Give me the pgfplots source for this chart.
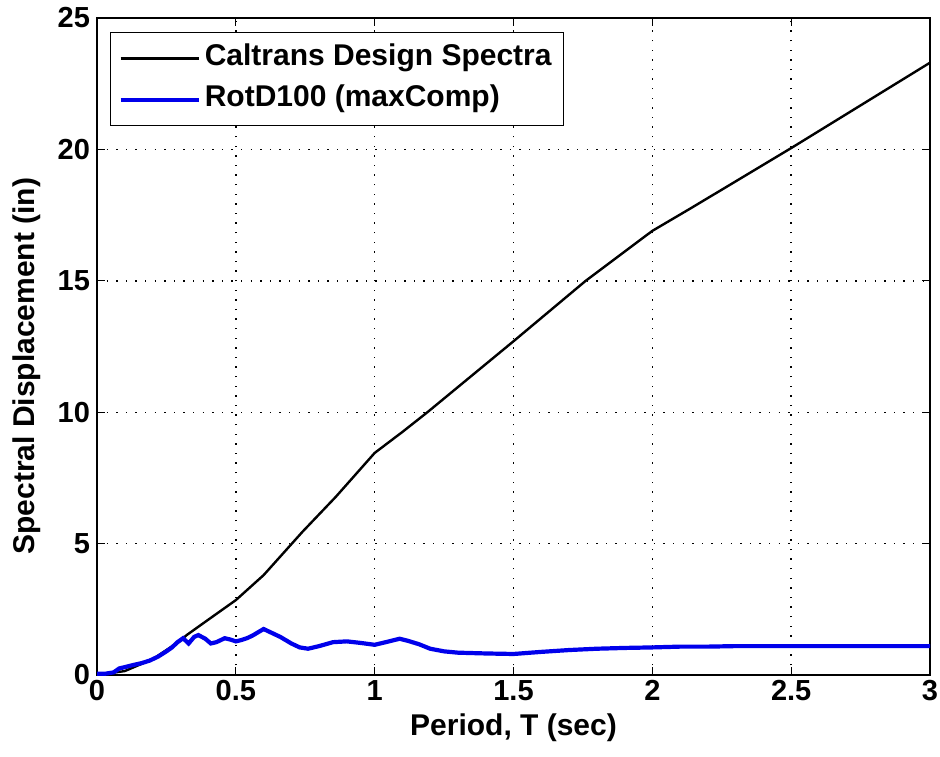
\documentclass[border=0pt]{standalone}
\usepackage{fontspec}
\setmainfont{Liberation Sans}
\usepackage{pgfplots}
\pgfplotsset{compat=1.18}

\begin{document}
\begin{tikzpicture}
\path[use as bounding box] (0pt,0pt) rectangle (470pt,378pt);
\begin{axis}[
  at={(48.5pt,40.5pt)}, anchor=south west,
  scale only axis,
  width=416.5pt, height=328.5pt,
  xmin=0, xmax=3, ymin=0, ymax=25,
  xtick={0,0.5,...,3}, ytick={0,5,...,25},
  xticklabels={0,0.5,1,1.5,2,2.5,3},
  /pgf/number format/assume math mode=true,
  tick align=inside, tick pos=both,
  major tick length=4pt,
  tick style={black, line width=0.6pt},
  axis line style={line width=0.75pt},
  grid=major,
  major grid style={black, line width=0.7pt, dash pattern=on 0.7pt off 4.1pt},
  ticklabel style={font=\bfseries\fontsize{14.5}{16}\selectfont},
  xticklabel style={yshift=1pt},
  label style={font=\bfseries\fontsize{15}{17}\selectfont},
  xlabel={Period, T (sec)},
  ylabel={Spectral Displacement (in)},
  xlabel style={at={(axis description cs:0.5,-0.081)}, anchor=center},
  ylabel style={at={(axis description cs:-0.084,0.47)}, anchor=center},
  legend cell align=left,
  legend style={at={(axis description cs:0,1)}, anchor=north west,
    xshift=6.5pt, yshift=-7pt, draw=black, line width=0.6pt, fill=white,
    font=\bfseries\fontsize{15}{17}\selectfont, row sep=2.5pt,
    nodes={inner sep=2pt, text height=10.5pt, text depth=3.5pt},
    inner xsep=4pt, inner ysep=4pt},
  legend image code/.code={\draw[#1] (0pt,0pt) -- (39pt,0pt);},
]
\addplot [black, line width=1.2pt] table {%
0 0
0.1 0.15
0.2 0.6
0.3 1.3
0.323 1.52
0.4 2.1
0.5 2.85
0.6 3.8
0.74 5.45
0.86 6.78
1.0 8.45
1.1 9.25
1.19 10.0
1.5 12.7
1.76 15.0
2.0 16.9
2.14 17.77
2.5 20.05
3.0 23.3
};
\addlegendentry{Caltrans Design Spectra}
\addplot [color={rgb,255:red,0;green,0;blue,235}, line width=2.1pt] table {%
0 0.05
0.03 0.05
0.06 0.1
0.08 0.25
0.1 0.3
0.13 0.38
0.16 0.45
0.19 0.55
0.22 0.7
0.25 0.9
0.27 1.05
0.29 1.25
0.31 1.4
0.33 1.2
0.35 1.45
0.365 1.52
0.39 1.38
0.41 1.2
0.43 1.25
0.46 1.4
0.48 1.35
0.50 1.28
0.52 1.33
0.54 1.4
0.56 1.5
0.60 1.75
0.63 1.6
0.66 1.45
0.70 1.2
0.73 1.05
0.76 1.0
0.80 1.1
0.85 1.25
0.90 1.28
0.95 1.22
1.0 1.15
1.04 1.25
1.09 1.38
1.12 1.3
1.16 1.17
1.2 1.0
1.25 0.9
1.3 0.85
1.4 0.82
1.5 0.8
1.6 0.88
1.7 0.95
1.8 1.0
1.9 1.03
2.0 1.05
2.1 1.08
2.2 1.08
2.3 1.1
2.5 1.1
2.7 1.1
3.0 1.1
};
\addlegendentry{RotD100 (maxComp)}
\end{axis}
\end{tikzpicture}
\end{document}
